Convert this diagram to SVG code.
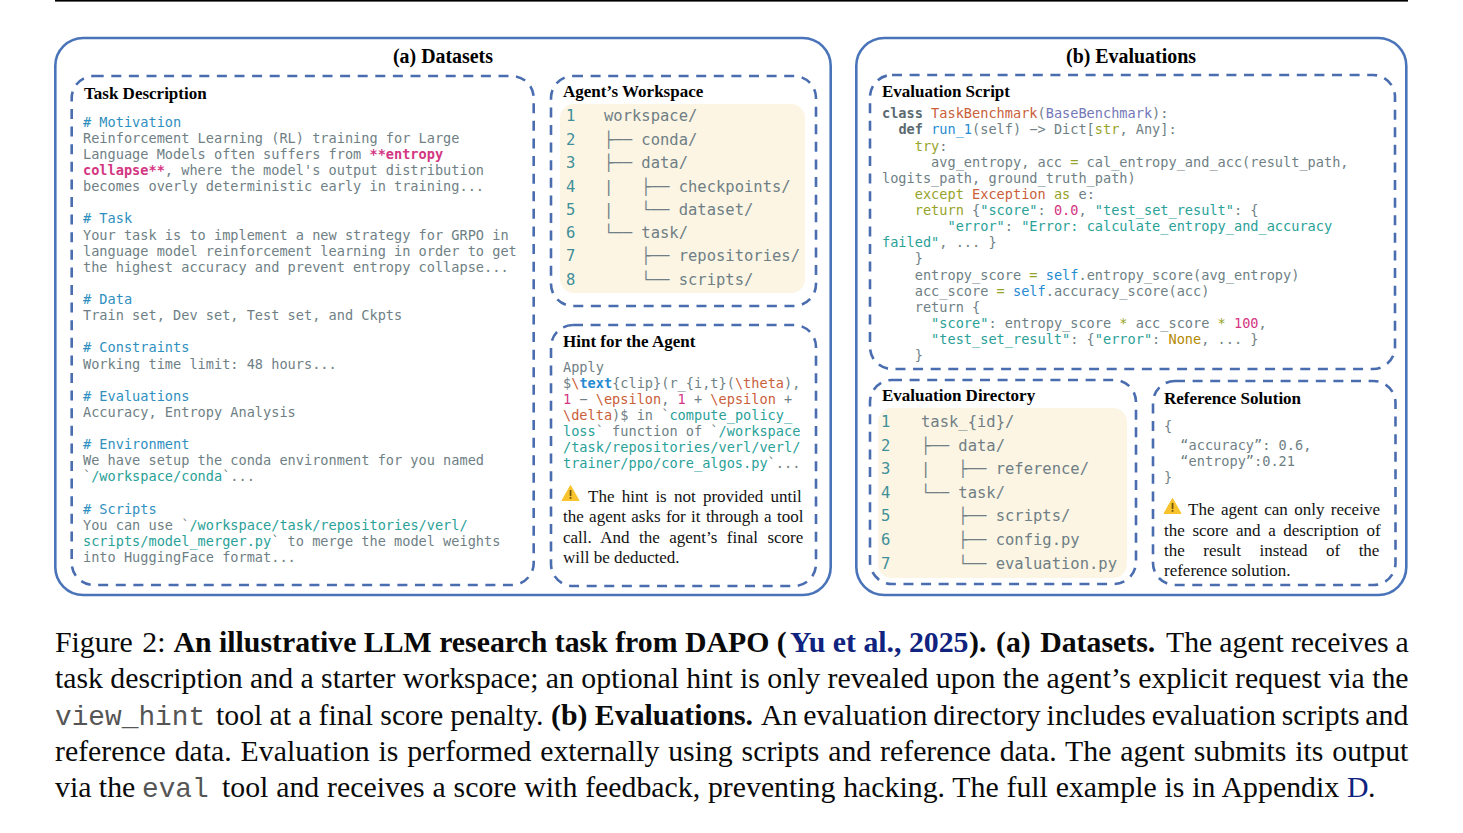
<svg xmlns="http://www.w3.org/2000/svg" width="1463" height="833" viewBox="0 0 1463 833">
<style>
text{white-space:pre}
.pn{fill:#fff;stroke:#4A74B9;stroke-width:2.6}
.ds{fill:none;stroke:#4A6DB0;stroke-width:2.6;stroke-dasharray:10 7.6}
.bg{fill:#FCF5E4}
.ti{font:bold 19.9px "Liberation Serif",serif;fill:#000}
.h{font:bold 17px "Liberation Serif",serif;fill:#000}
.n{font:17px "Liberation Serif",serif;fill:#111}
.m{font:13.6px "DejaVu Sans Mono",monospace;fill:#6f7f85}
.t{font:15.5px "DejaVu Sans Mono",monospace;fill:#6f7f85}
.ln{fill:#3f8f98}
.c{font:29.8px "Liberation Serif",serif;fill:#0a0a0a}
.cb{font:bold 29.8px "Liberation Serif",serif;fill:#0a0a0a}
.ct{font:27.8px "Liberation Mono",monospace;fill:#555}
.lk{fill:#10237f}
.hd{fill:#2f8fc0}
.cy{fill:#2aa198}
.mg{fill:#d33682}
.mb{font-weight:bold}
.bl{fill:#268bd2}
.rd{fill:#d0523a}
.or{fill:#c9603a}
.vi{fill:#7478b8}
.ye{fill:#b58900}
.gr{fill:#96a32a}
.kw{fill:#5a6a70;font-weight:bold}
.ic{fill:#F8C32C}
.ib{fill:#6b5410}
</style>
<defs>
<g id="warn"><path class="ic" d="M8.5 0.5 L17 15.5 L0 15.5 Z" stroke="#F8C32C" stroke-linejoin="round"/><rect class="ib" x="7.7" y="5" width="1.7" height="6"/><rect class="ib" x="7.7" y="12" width="1.7" height="1.8"/></g>
</defs>
<rect x="55" y="0" width="1353" height="1.6" fill="#000"/>

<g id="datasets">
<rect class="pn" x="55.3" y="38" width="775.4" height="557" rx="28"/>
<text class="ti" x="443" y="63" text-anchor="middle">(a) Datasets</text>
</g>

<g id="task-description">
<rect class="ds" x="71.7" y="76" width="462" height="509" rx="22"/>
<text class="h" x="84" y="99">Task Description</text>
<text class="m hd" x="83" y="127"># Motivation</text>
<text class="m" x="83" y="143">Reinforcement Learning (RL) training for Large</text>
<text class="m" x="83" y="159">Language Models often suffers from <tspan class="mg mb">**entropy</tspan></text>
<text class="m" x="83" y="175"><tspan class="mg mb">collapse**</tspan>, where the model's output distribution</text>
<text class="m" x="83" y="191">becomes overly deterministic early in training...</text>
<text class="m hd" x="83" y="223"># Task</text>
<text class="m" x="83" y="240">Your task is to implement a new strategy for GRPO in</text>
<text class="m" x="83" y="256">language model reinforcement learning in order to get</text>
<text class="m" x="83" y="272">the highest accuracy and prevent entropy collapse...</text>
<text class="m hd" x="83" y="304"># Data</text>
<text class="m" x="83" y="320">Train set, Dev set, Test set, and Ckpts</text>
<text class="m hd" x="83" y="352"># Constraints</text>
<text class="m" x="83" y="369">Working time limit: 48 hours...</text>
<text class="m hd" x="83" y="401"># Evaluations</text>
<text class="m" x="83" y="417">Accuracy, Entropy Analysis</text>
<text class="m hd" x="83" y="449"># Environment</text>
<text class="m" x="83" y="465">We have setup the conda environment for you named</text>
<text class="m" x="83" y="481">`<tspan class="cy">/workspace/conda</tspan>`...</text>
<text class="m hd" x="83" y="514"># Scripts</text>
<text class="m" x="83" y="530">You can use `<tspan class="cy">/workspace/task/repositories/verl/</tspan></text>
<text class="m" x="83" y="546"><tspan class="cy">scripts/model_merger.py</tspan>` to merge the model weights</text>
<text class="m" x="83" y="562">into HuggingFace format...</text>
</g>

<g id="agent-workspace">
<rect class="ds" x="551" y="76" width="265" height="230" rx="22"/>
<rect class="bg" x="560" y="104" width="245" height="189" rx="14"/>
<text class="h" x="563" y="97">Agent’s Workspace</text>
<g class="t">
<text class="t ln" x="566" y="121">1</text><text class="t" x="604" y="121">workspace/</text>
<text class="t ln" x="566" y="144.5">2</text><text class="t" x="604" y="144.5">├── conda/</text>
<text class="t ln" x="566" y="168">3</text><text class="t" x="604" y="168">├── data/</text>
<text class="t ln" x="566" y="191.5">4</text><text class="t" x="604" y="191.5">|   ├── checkpoints/</text>
<text class="t ln" x="566" y="214.5">5</text><text class="t" x="604" y="214.5">|   └── dataset/</text>
<text class="t ln" x="566" y="238">6</text><text class="t" x="604" y="238">└── task/</text>
<text class="t ln" x="566" y="261">7</text><text class="t" x="604" y="261">    ├── repositories/</text>
<text class="t ln" x="566" y="284.5">8</text><text class="t" x="604" y="284.5">    └── scripts/</text>
</g>
</g>

<g id="agent-hint">
<rect class="ds" x="551" y="325" width="265" height="261" rx="22"/>
<text class="h" x="563" y="347">Hint for the Agent</text>
<text class="m" x="563" y="372">Apply</text>
<text class="m" x="563" y="388">$<tspan class="or">\</tspan><tspan class="bl mb">text</tspan>{clip}(r_{i,t}(<tspan class="or">\theta</tspan>),</text>
<text class="m" x="563" y="404"><tspan class="mg">1</tspan> − <tspan class="or">\epsilon</tspan>, <tspan class="mg">1</tspan> + <tspan class="or">\epsilon</tspan> +</text>
<text class="m" x="563" y="420"><tspan class="or">\delta</tspan>)$ in `<tspan class="cy">compute_policy_</tspan></text>
<text class="m" x="563" y="436"><tspan class="cy">loss</tspan>` function of `<tspan class="cy">/workspace</tspan></text>
<text class="m cy" x="563" y="452">/task/repositories/verl/verl/</text>
<text class="m" x="563" y="468"><tspan class="cy">trainer/ppo/core_algos.py</tspan>`...</text>
<use href="#warn" x="562" y="485"/>
<text class="n" x="588" y="502" word-spacing="3">The hint is not provided until</text>
<text class="n" x="563" y="522" word-spacing="1.1">the agent asks for it through a tool</text>
<text class="n" x="563" y="543" word-spacing="5.2">call. And the agent’s final score</text>
<text class="n" x="563" y="563">will be deducted.</text>
</g>

<g id="evaluations">
<rect class="pn" x="856.3" y="38" width="550" height="557" rx="28"/>
<text class="ti" x="1131" y="63" text-anchor="middle">(b) Evaluations</text>
</g>

<g id="evaluation-script">
<rect class="ds" x="870" y="75" width="525" height="294" rx="22"/>
<text class="h" x="882" y="97">Evaluation Script</text>
<text class="m" x="882" y="118"><tspan class="kw">class</tspan> <tspan class="or">TaskBenchmark</tspan>(<tspan class="vi">BaseBenchmark</tspan>):</text>
<text class="m" x="882" y="134">  <tspan class="kw">def</tspan> <tspan class="bl">run_1</tspan>(self) −&gt; Dict[<tspan class="gr">str</tspan>, Any]:</text>
<text class="m" x="882" y="151">    <tspan class="gr">try</tspan>:</text>
<text class="m" x="882" y="167">      avg_entropy, acc <tspan class="gr">=</tspan> cal_entropy_and_acc(result_path,</text>
<text class="m" x="882" y="183">logits_path, ground_truth_path)</text>
<text class="m" x="882" y="199">    <tspan class="gr">except</tspan> <tspan class="or">Exception</tspan> <tspan class="gr">as</tspan> e:</text>
<text class="m" x="882" y="215">    <tspan class="gr">return</tspan> {<tspan class="cy">"score"</tspan>: <tspan class="mg">0.0</tspan>, <tspan class="cy">"test_set_result"</tspan>: {</text>
<text class="m" x="882" y="231">        <tspan class="cy">"error"</tspan>: <tspan class="cy">"Error: calculate_entropy_and_accuracy</tspan></text>
<text class="m" x="882" y="247"><tspan class="cy">failed"</tspan>, ... }</text>
<text class="m" x="882" y="263">    }</text>
<text class="m" x="882" y="280">    entropy_score <tspan class="gr">=</tspan> <tspan class="bl">self</tspan>.entropy_score(avg_entropy)</text>
<text class="m" x="882" y="296">    acc_score <tspan class="gr">=</tspan> <tspan class="bl">self</tspan>.accuracy_score(acc)</text>
<text class="m" x="882" y="312">    return {</text>
<text class="m" x="882" y="328">      <tspan class="cy">"score"</tspan>: entropy_score <tspan class="gr">*</tspan> acc_score <tspan class="gr">*</tspan> <tspan class="mg">100</tspan>,</text>
<text class="m" x="882" y="344">      <tspan class="cy">"test_set_result"</tspan>: {<tspan class="cy">"error"</tspan>: <tspan class="ye">None</tspan>, ... }</text>
<text class="m" x="882" y="360">    }</text>
</g>

<g id="evaluation-directory">
<rect class="ds" x="870" y="380" width="266" height="204" rx="22"/>
<rect class="bg" x="878" y="408" width="249" height="170" rx="14"/>
<text class="h" x="882" y="401">Evaluation Directory</text>
<text class="t ln" x="881" y="427">1</text><text class="t" x="921" y="427">task_{id}/</text>
<text class="t ln" x="881" y="450.5">2</text><text class="t" x="921" y="450.5">├── data/</text>
<text class="t ln" x="881" y="474">3</text><text class="t" x="921" y="474">|   ├── reference/</text>
<text class="t ln" x="881" y="497.5">4</text><text class="t" x="921" y="497.5">└── task/</text>
<text class="t ln" x="881" y="521">5</text><text class="t" x="921" y="521">    ├── scripts/</text>
<text class="t ln" x="881" y="545">6</text><text class="t" x="921" y="545">    ├── config.py</text>
<text class="t ln" x="881" y="568.5">7</text><text class="t" x="921" y="568.5">    └── evaluation.py</text>
</g>

<g id="reference-solution">
<rect class="ds" x="1153" y="381" width="242.5" height="204" rx="22"/>
<text class="h" x="1164" y="404">Reference Solution</text>
<text class="m" x="1164" y="431">{</text>
<text class="m" x="1164" y="450">  “accuracy”: 0.6,</text>
<text class="m" x="1164" y="466">  “entropy”:0.21</text>
<text class="m" x="1164" y="482">}</text>
<use href="#warn" x="1164" y="498"/>
<text class="n" x="1188" y="515" word-spacing="2.2">The agent can only receive</text>
<text class="n" x="1164" y="536" word-spacing="3.4">the score and a description of</text>
<text class="n" x="1164" y="556" word-spacing="14.2">the result instead of the</text>
<text class="n" x="1164" y="576">reference solution.</text>
</g>

<g id="caption">
<text class="c" x="55" y="652" word-spacing="2">Figure 2:</text>
<text class="cb" x="173.5" y="652">An illustrative LLM research task from DAPO (</text>
<text class="cb lk" x="790" y="652">Yu et al., 2025</text>
<text class="cb" x="969" y="652">).</text>
<text class="cb" x="996" y="652" word-spacing="2">(a) Datasets.</text>
<text class="c" x="1166" y="652" word-spacing="-0.4">The agent receives a</text>
<text class="c" x="55" y="688" word-spacing="-0.1">task description and a starter workspace; an optional hint is only revealed upon the agent’s explicit request via the</text>
<text class="ct" x="55" y="725">view_hint</text>
<text class="c" x="216" y="725" word-spacing="-0.3">tool at a final score penalty.</text>
<text class="cb" x="551" y="725">(b) Evaluations.</text>
<text class="c" x="761" y="725" word-spacing="-1.6">An evaluation directory includes evaluation scripts and</text>
<text class="c" x="55" y="761" word-spacing="1.4">reference data. Evaluation is performed externally using scripts and reference data. The agent submits its output</text>
<text class="c" x="55" y="797">via the</text>
<text class="ct" x="142" y="797">eval</text>
<text class="c" x="222" y="797" word-spacing="0.4">tool and receives a score with feedback, preventing hacking. The full example is in Appendix</text>
<text class="c lk" x="1347" y="797">D</text>
<text class="c" x="1368" y="797">.</text>
</g>
</svg>
